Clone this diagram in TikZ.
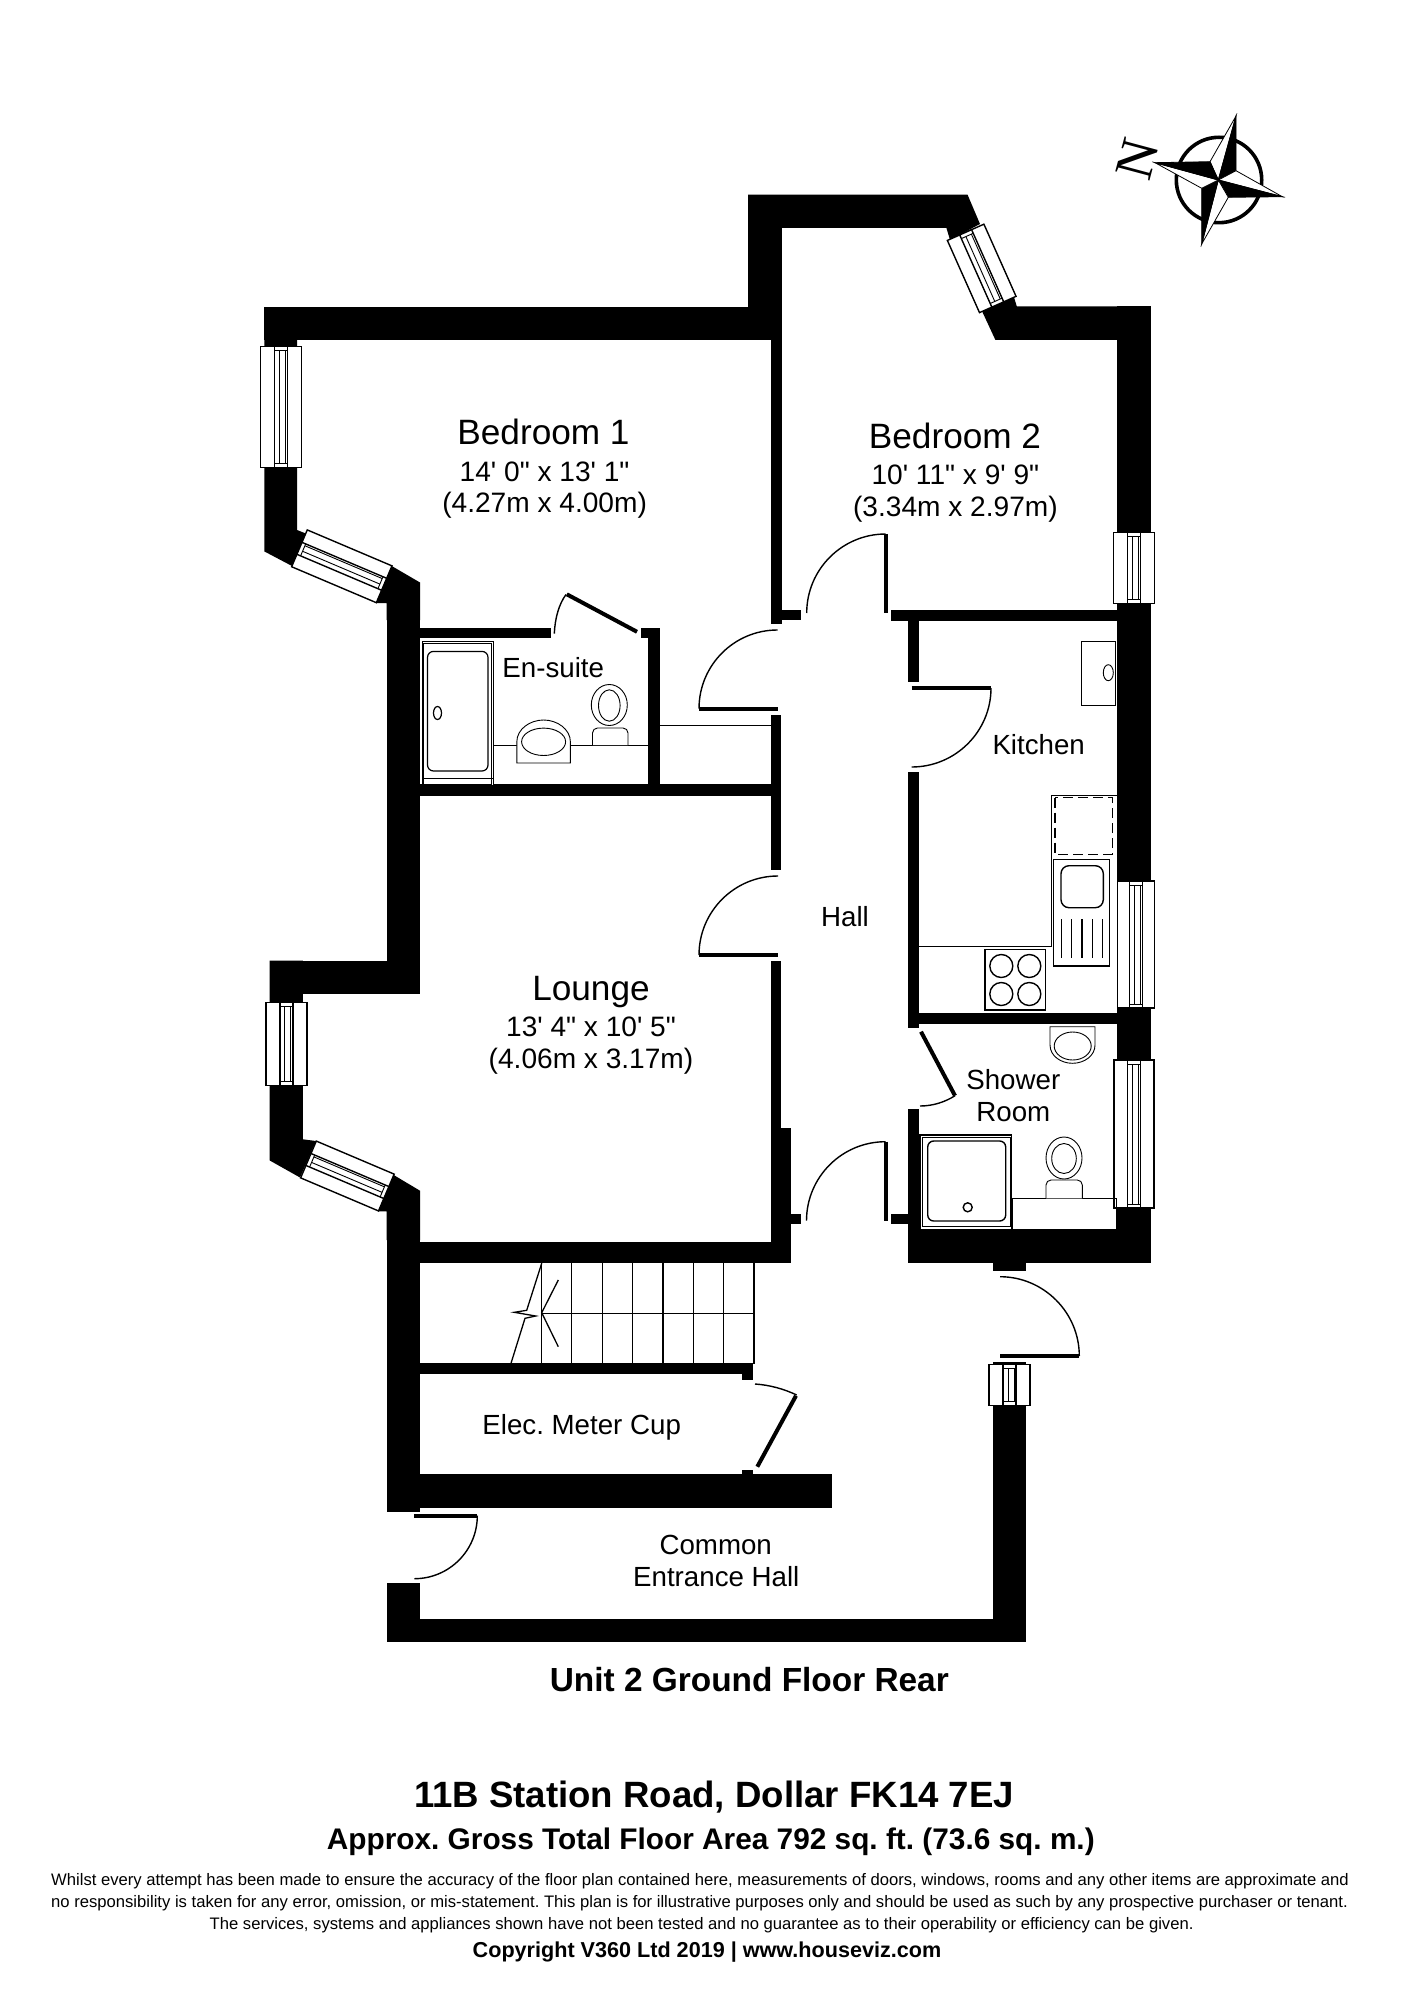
\documentclass[tikz,border=0pt]{standalone}
\usepackage{fontspec}
\setmainfont{Liberation Sans}
\newfontfamily\plainsans{Liberation Sans}
\newfontfamily\serifletter{Liberation Serif}
\frenchspacing
\newcommand\flwindow[5]{%
  \begin{scope}[shift={(#1,#2)},rotate=#5]
    \draw[winframe] (-#3/2,-#4/2) rectangle (#3/2,#4/2);
    \draw[winframe] (-6.5,-#4/2) rectangle (6.5,#4/2);
    \draw[winline] (-1.5,-#4/2+4) -- (-1.5,#4/2-4);
    \draw[winline] (4.5,-#4/2+4) -- (4.5,#4/2-4);
    \draw[winline] (-6.5,-#4/2+4) -- (6.5,-#4/2+4);
    \draw[winline] (-6.5,#4/2-4) -- (6.5,#4/2-4);
  \end{scope}}
\tikzset{
  wall/.style={fill=black,draw=none},
  winframe/.style={draw=black,fill=white,line width=0.7pt},
  winline/.style={draw=black,line width=0.45pt},
  leaf/.style={draw=black,line width=2pt,line cap=butt},
  swing/.style={draw=black,line width=0.7pt},
  fixture/.style={draw=black,line width=0.45pt},
  stair/.style={draw=black,line width=0.65pt},
  roomname/.style={anchor=base,inner sep=0pt,font=\fontsize{17.6}{20}\selectfont},
  roomdim/.style={anchor=base,inner sep=0pt,font=\plainsans\fontsize{14.05}{16}\selectfont},
  roomlabel/.style={anchor=base,inner sep=0pt,font=\fontsize{13.85}{16}\selectfont},
  boldline/.style={anchor=base,inner sep=0pt,font=\bfseries\fontsize{#1}{#1}\selectfont},
  smallline/.style={anchor=base,inner sep=0pt,font=\fontsize{8.32}{10}\selectfont},
}
\begin{document}
\begin{tikzpicture}[x=0.5pt,y=-0.5pt]
\useasboundingbox (0,0) rectangle (1414,2000);
\fill[white] (0,0) rectangle (1414,2000);

% --- walls: bedroom 1 and left side
\fill[wall] (264.3,307.5) rectangle (781.8,340);
\fill[wall] (264.3,307.5) -- (297,307.5) -- (297,530) -- (307,534) -- (292,566) -- (264.3,551.4) -- cycle;
\fill[wall] (390,565) -- (420,582.5) -- (420,620) -- (386.7,620) -- (386.7,603) -- (376,603) -- cycle;
\fill[wall] (386.7,600) rectangle (420,994.3);
\fill[wall] (269.6,960.7) rectangle (420,994.3);
\fill[wall] (269.6,960.7) -- (302.9,960.7) -- (302.9,1139.3) -- (316,1141) -- (300,1177.5) -- (269.6,1160.4) -- cycle;
\fill[wall] (392,1174) -- (420,1190.7) -- (420,1240) -- (386.7,1240) -- (386.7,1211.4) -- (377.9,1211.4) -- cycle;
\fill[wall] (386.7,1200) rectangle (420,1511.7);
% en-suite walls
\fill[wall] (420,627.5) rectangle (550.7,638.2);
\fill[wall] (641,627.5) rectangle (659.6,638.2);
\fill[wall] (648,627.5) rectangle (659.6,796);
\fill[wall] (420,784.3) rectangle (771,796);
% hall left wall
\fill[wall] (770.7,340) rectangle (781.6,623.6);
\fill[wall] (770.7,715) rectangle (781.4,870);
\fill[wall] (770.7,960.7) rectangle (781.4,1262.5);
\fill[wall] (781,1127.5) rectangle (790.7,1262.5);
\fill[wall] (420,1241.8) rectangle (790.7,1262.5);
\fill[wall] (790,1214) rectangle (801,1224.3);
% bedroom 2
\fill[wall] (748,194.6) rectangle (781.8,340);
\fill[wall] (748,194.6) -- (967.5,194.6) -- (980,224) -- (950,240) -- (946.4,227.9) -- (748,227.9) -- cycle;
\fill[wall] (1013,294) -- (1016.8,306.4) -- (1150.7,306.4) -- (1150.7,340) -- (995.4,340) -- (981,309) -- cycle;
\fill[wall] (1117.3,306.4) rectangle (1150.7,1263);
\fill[wall] (781.8,609.6) rectangle (800.7,620.4);
\fill[wall] (891.4,610) rectangle (1117.5,620.7);
% kitchen / shower
\fill[wall] (908.3,620) rectangle (919.3,681.7);
\fill[wall] (908.3,772.3) rectangle (919.3,1027.7);
\fill[wall] (908,1012.7) rectangle (1117.5,1024);
\fill[wall] (908,1109.3) rectangle (919.3,1263);
\fill[wall] (891,1214) rectangle (908.5,1224.3);
\fill[wall] (908,1230) rectangle (1150.7,1263);
\fill[wall] (992.7,1262) rectangle (1026,1271.3);
% common areas
\fill[wall] (420,1363.3) rectangle (753.3,1374.3);
\fill[wall] (742.3,1363.3) rectangle (753.3,1380.3);
\fill[wall] (742.3,1470) rectangle (753.3,1475);
\fill[wall] (386.7,1474.3) rectangle (831.7,1508.3);
\fill[wall] (386.7,1583.3) rectangle (420,1641.7);
\fill[wall] (386.7,1619) rectangle (1026,1641.7);
\fill[wall] (992.7,1361.7) rectangle (1026,1641.7);

% --- windows
\flwindow{281}{407}{41}{121}{0}
\flwindow{341.8}{566.3}{40}{92}{67}
\flwindow{286.4}{1044}{41}{83}{0}
\flwindow{347.4}{1176}{40}{84.6}{67}
\flwindow{981.7}{268.4}{40}{79}{24}
\flwindow{1134}{568}{41}{71.5}{0}
\flwindow{1136}{944.6}{37.5}{127}{0}
\flwindow{1134}{1134}{40}{148}{0}
\flwindow{1009.5}{1385}{41}{41.4}{0}

% --- doors
\draw[leaf] (699,708.6) -- (777.5,708.6);
\draw[swing] (777.5,630) .. controls +(-43.4,0) and +(0,-43.4) .. (699,708.6);
\draw[leaf] (699,955) -- (778,955);
\draw[swing] (778,876) .. controls +(-43.6,0) and +(0,-43.6) .. (699,955);
\draw[leaf] (885.7,534) -- (885.7,613);
\draw[swing] (885.7,534) .. controls +(-43.6,0) and +(0,-43.6) .. (806.7,613);
\draw[leaf] (885.5,1141.7) -- (885.5,1220.7);
\draw[swing] (885.5,1141.7) .. controls +(-43.6,0) and +(0,-43.6) .. (806.5,1220.7);
\draw[leaf] (911.7,688) -- (991,688);
\draw[swing] (991,688) .. controls +(0,43.6) and +(43.6,0) .. (911.7,767);
\draw[leaf] (414.3,1515.7) -- (477.3,1515.7);
\draw[swing] (477.3,1515.7) .. controls +(0,34.8) and +(34.8,0) .. (414.3,1578.7);
\draw[leaf] (1000,1356) -- (1079.3,1356);
\draw[swing] (1000,1276.7) .. controls +(43.6,0) and +(0,-43.6) .. (1079.3,1356);
\draw[leaf] (566.8,594.3) -- (637,631.8);
\draw[swing] (554.3,633.6) .. controls (555,618) and (559,604) .. (566,594.5);
\draw[leaf] (921,1031.7) -- (955,1095.7);
\draw[swing] (920,1106) .. controls (933,1106) and (945,1102) .. (955,1095.7);
\draw[leaf] (796,1395.7) -- (757.3,1466.7);
\draw[swing] (755,1384) .. controls (770,1385) and (784,1389) .. (796.7,1395);

% --- en-suite fixtures
\draw[fixture] (659.6,725.4) -- (770.5,725.4);
\draw[fixture] (493,745) -- (648,745);
\draw[fixture,fill=white] (422,641.4) rectangle (493,785.4);
\draw[fixture] (422,778) -- (493,778);
\draw[fixture] (423.8,643) rectangle (491.5,784);
\draw[fixture,line width=0.6pt,rounded corners=3pt] (427.5,651.4) rectangle (488,771);
\draw[fixture,line width=0.6pt] (437.5,713) ellipse (4 and 6.5);
\draw[fixture,fill=white] (516.8,763) -- (516.8,742) .. controls (516.8,729) and (530,720) .. (543.6,720) .. controls (557,720) and (570.4,729) .. (570.4,742) -- (570.4,763) -- cycle;
\draw[fixture] (543.6,741.8) ellipse (22 and 13.7);
\draw[fixture] (609.3,705) ellipse (18 and 20.5);
\draw[fixture] (609.3,705.5) ellipse (10.8 and 15.7);
\draw[fixture,fill=white,rounded corners=2.5pt] (592.5,745) -- (592.5,728) -- (628,728) -- (628,745);

% --- kitchen fixtures
\draw[fixture] (1081,641.7) rectangle (1115.7,705);
\draw[fixture] (1108.3,672.7) ellipse (5 and 8);
\draw[fixture] (919.3,946.7) -- (1051,946.7) -- (1051,795) -- (1117.3,795);
\draw[draw=black,line width=0.75pt,dash pattern=on 5pt off 2.5pt] (1055,797.7) rectangle (1112.3,854.3);
\draw[fixture,line width=0.7pt] (1053.3,859.3) rectangle (1109.3,966);
\draw[fixture,line width=0.7pt,rounded corners=4pt] (1061,865.7) rectangle (1103.3,907.7);
\foreach \dx in {1061.7,1071.7,1082,1092.3,1102.7}
  \draw[fixture,line width=0.7pt] (\dx,919) -- (\dx,958.3);
\draw[fixture,line width=0.7pt,fill=white] (985,949.7) rectangle (1045.7,1010);
\foreach \hx/\hy in {1001.3/966,1029.3/966,1001.3/994,1029.3/994}
  \draw[fixture,line width=0.7pt] (\hx,\hy) circle (11.5);

% --- shower room fixtures
\draw[fixture] (1050,1026.7) -- (1095,1026.7) -- (1095,1045) .. controls (1095,1056) and (1084,1063.3) .. (1072.5,1063.3) .. controls (1061,1063.3) and (1050,1056) .. (1050,1045) -- cycle;
\draw[fixture] (1072.7,1046) ellipse (18.5 and 14);
\draw[fixture,line width=0.7pt] (920,1135) rectangle (1011.7,1229.3);
\draw[fixture] (922.3,1137) rectangle (1010,1226.3);
\draw[fixture,line width=0.7pt,rounded corners=3pt] (927.7,1141) rectangle (1005.7,1221);
\draw[fixture,line width=0.7pt] (967.7,1207.3) circle (4.5);
\draw[fixture,line width=0.7pt] (1012.7,1198.3) rectangle (1116.7,1229.3);
\draw[fixture] (1064,1158) ellipse (18 and 21);
\draw[fixture] (1064,1158.5) ellipse (12.3 and 15);
\draw[fixture,fill=white,rounded corners=2.5pt] (1046,1198.3) -- (1046,1180) -- (1082.3,1180) -- (1082.3,1198.3);

% --- stairs
\foreach \tx in {541.7,571.7,602.3,632.7,663,693.3,723.7,754}
  \draw[stair] (\tx,1263) -- (\tx,1363.5);
\draw[stair] (541.7,1313.3) -- (754,1313.3);
\draw[stair] (541.7,1263.3) -- (526.7,1310.3) -- (514.3,1312.3) -- (535.7,1316) -- (525,1318.3) -- (511,1363.3);
\draw[stair] (558.3,1280) -- (541.7,1312.7) -- (558.3,1346.7);

% --- compass
\draw[black,line width=1.8pt] (1219,180) circle (42.7);
\begin{scope}[line width=0.4pt,draw=black,line join=miter]
\filldraw[fill=white] (1218.3,180) -- (1210,161.7) -- (1236,116) -- cycle;
\filldraw[fill=black] (1218.3,180) -- (1236,170.7) -- (1236,116) -- cycle;
\filldraw[fill=white] (1218.3,180) -- (1236,170.7) -- (1282.3,196.7) -- cycle;
\filldraw[fill=black] (1218.3,180) -- (1228.3,197.3) -- (1282.3,196.7) -- cycle;
\filldraw[fill=white] (1218.3,180) -- (1228.3,197.3) -- (1201.7,244) -- cycle;
\filldraw[fill=black] (1218.3,180) -- (1201.7,188.3) -- (1201.7,244) -- cycle;
\filldraw[fill=white] (1218.3,180) -- (1201.7,188.3) -- (1155,162.7) -- cycle;
\filldraw[fill=black] (1218.3,180) -- (1210,161.7) -- (1155,162.7) -- cycle;
\end{scope}
\node[rotate=75,inner sep=0pt,font=\serifletter\fontsize{27}{27}\selectfont] (north) at (1137.5,158.7) {N};

% --- room texts
\node[roomname] (bedonename) at (543.5,444.3) {Bedroom 1};
\node[roomdim] (bedonedim) at (544.6,481.8) {14' 0" x 13' 1"};
\node[roomdim] (bedonemet) at (544.6,512) {(4.27m x 4.00m)};
\node[roomname] (bedtwoname) at (955,448.2) {Bedroom 2};
\node[roomdim] (bedtwodim) at (955.4,484.6) {10' 11" x 9' 9"};
\node[roomdim] (bedtwomet) at (955.4,516.8) {(3.34m x 2.97m)};
\node[roomname] (loungename) at (591,1000.7) {Lounge};
\node[roomdim] (loungedim) at (591,1036.4) {13' 4" x 10' 5"};
\node[roomdim] (loungemet) at (591,1068.6) {(4.06m x 3.17m)};
\node[roomlabel] (ensuite) at (553.2,677.5) {En-suite};
\node[roomlabel] (kitchen) at (1038.7,754.3) {Kitchen};
\node[roomlabel] (hall) at (845,926.7) {Hall};
\node[roomlabel] (shower) at (1013.3,1089.3) {Shower};
\node[roomlabel] (showerroom) at (1013.3,1121) {Room};
\node[roomlabel] (meter) at (581.7,1434) {Elec. Meter Cup};
\node[roomlabel] (common) at (715.7,1554.3) {Common};
\node[roomlabel] (entrance) at (716.3,1586) {Entrance Hall};

% --- titles and notes
\node[boldline=16.7] (unit) at (749.3,1691.7) {Unit 2 Ground Floor Rear};
\node[boldline=18.3] (address) at (714,1807.7) {11B Station Road, Dollar FK14 7EJ};
\node[boldline=14.9] (area) at (710.8,1849) {Approx. Gross Total Floor Area 792 sq. ft. (73.6 sq. m.)};
\node[smallline] (noteone) at (700,1885) {Whilst every attempt has been made to ensure the accuracy of the floor plan contained here, measurements of doors, windows, rooms and any other items are approximate and};
\node[smallline] (notetwo) at (699.5,1907.7) {no responsibility is taken for any error, omission, or mis-statement. This plan is for illustrative purposes only and should be used as such by any prospective purchaser or tenant.};
\node[smallline] (notethree) at (701.6,1929.3) {The services, systems and appliances shown have not been tested and no guarantee as to their operability or efficiency can be given.};
\node[boldline=10.8] (copyright) at (707,1957.7) {Copyright V360 Ltd 2019 | www.houseviz.com};
\end{tikzpicture}
\end{document}
